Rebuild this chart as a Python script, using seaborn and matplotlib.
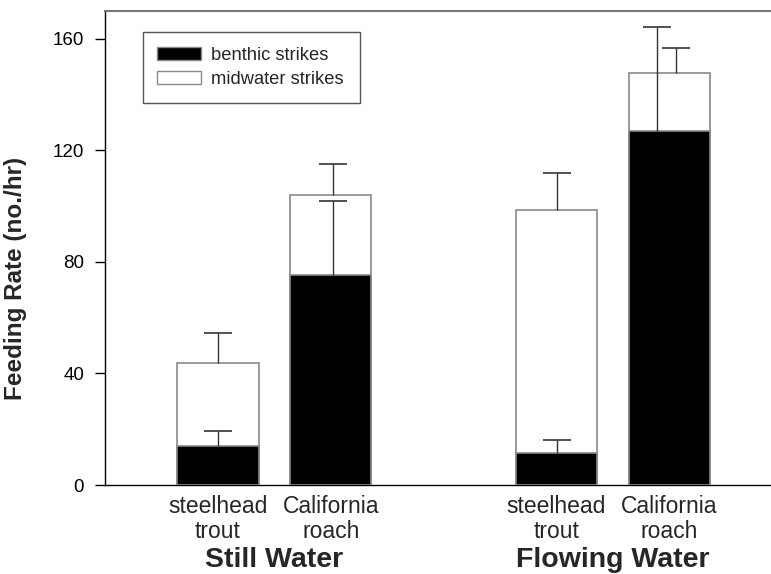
import numpy as np
import pandas as pd
import matplotlib
matplotlib.use("Agg")
import matplotlib.pyplot as plt
import matplotlib.transforms as mtransforms
from matplotlib.patches import Patch
import seaborn as sns

# Feeding rates (strikes per hour), mean and standard error
groups = ["Still Water", "Flowing Water"]
species = ["steelhead\ntrout", "California\nroach"]
benthic_mean = [14.1, 75.3, 11.5, 126.8]
midwater_mean = [29.8, 28.6, 87.0, 20.9]
benthic_se = [5.4, 26.6, 4.6, 37.6]
total_se = [10.7, 11.3, 13.4, 9.0]

sns.set_style("ticks")
plt.rcParams["font.family"] = ["Liberation Sans", "DejaVu Sans"]

# two species per water condition, with a blank slot between conditions
pos = np.array([g * (len(species) + 1) + s
                for g in range(len(groups)) for s in range(len(species))], dtype=float)
benthic = np.array(benthic_mean)
total = benthic + np.array(midwater_mean)
df = pd.DataFrame({"pos": pos, "benthic": benthic, "total": total,
                   "label": species * len(groups)})

fig = plt.figure(figsize=(7.71, 5.74), dpi=100)
ax = fig.add_axes([105 / 771, 1 - 485 / 574, 1 - 105 / 771, 474 / 574])

edge = "#8a8a8a"
sns.barplot(data=df, x="pos", y="total", native_scale=True, color="white",
            edgecolor=edge, linewidth=1.2, width=0.72, saturation=1,
            errorbar=None, ax=ax, zorder=2)
sns.barplot(data=df, x="pos", y="benthic", native_scale=True, color="black",
            edgecolor=edge, linewidth=1.2, width=0.72, saturation=1,
            errorbar=None, ax=ax, zorder=3)

# one-sided (upper) error bars; the last pair is spread apart so both stay visible
shift_benthic = [0.0, 0.02, 0.0, -0.11]
shift_total = [0.0, 0.02, 0.0, 0.06]
err_kw = dict(fmt="none", ecolor="#333333", elinewidth=1.0, capsize=10,
              capthick=1.2, zorder=4)
for shift, base, se in [(shift_benthic, benthic, benthic_se),
                        (shift_total, total, total_se)]:
    eb = ax.errorbar(pos + np.array(shift), base,
                     yerr=[np.zeros(len(pos)), np.array(se)], **err_kw)
    eb[1][0].set_visible(False)  # no cap at the bar top

ax.set_xlim(-1.0, 4.9)
ax.set_ylim(0, 170)
ax.set_yticks([0, 40, 80, 120, 160])
ax.tick_params(axis="y", direction="out", length=7, width=1, pad=8,
               labelsize=13.5, colors="black")
ax.set_xticks(pos)
ax.set_xticklabels(df["label"], fontsize=16.5, linespacing=1.15)
ax.tick_params(axis="x", length=0, pad=7)
ax.set_xlabel("")
ax.set_ylabel("Feeding Rate (no./hr)", fontsize=17.5, fontweight="bold")
ax.yaxis.set_label_coords(-0.117, 0.435)

trans = mtransforms.blended_transform_factory(ax.transData, ax.transAxes)
for g, name in enumerate(groups):
    center = pos[g * len(species):(g + 1) * len(species)].mean()
    ax.text(center, -0.173, name, transform=trans, ha="center", va="baseline",
            fontsize=20.5, fontweight="bold")

for side in ["left", "bottom"]:
    ax.spines[side].set_color("black")
    ax.spines[side].set_linewidth(1.0)
ax.spines["top"].set_color("#777777")
ax.spines["top"].set_linewidth(1.5)
ax.spines["right"].set_visible(False)

handles = [Patch(facecolor="black", edgecolor=edge, label="benthic strikes"),
           Patch(facecolor="white", edgecolor=edge, label="midwater strikes")]
leg = ax.legend(handles=handles, loc="upper left",
                bbox_to_anchor=(0.0566, 0.0, 0.3263, 0.9557), mode="expand",
                borderaxespad=0, fontsize=13.2, handlelength=2.4,
                handleheight=0.68, handletextpad=0.55, labelspacing=0.4,
                borderpad=0.8, fancybox=False, framealpha=1)
leg.get_frame().set_edgecolor("#555555")
leg.get_frame().set_linewidth(1.0)

fig.savefig("out.png", dpi=100)
